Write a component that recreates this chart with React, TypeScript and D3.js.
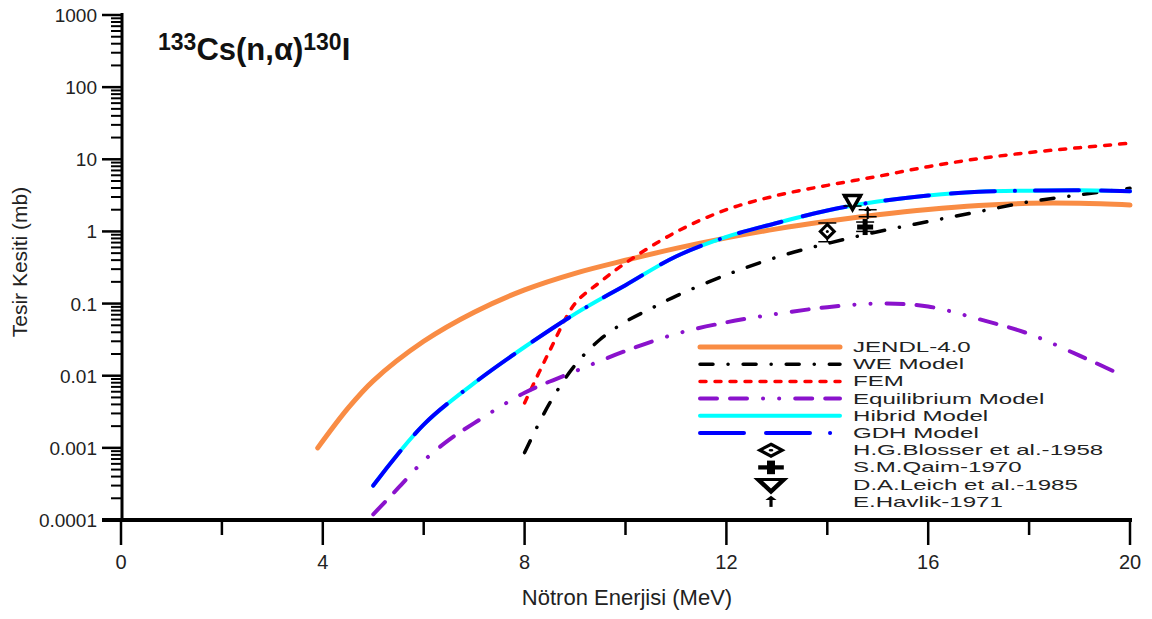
import * as d3 from "d3";

// energies (MeV) and cross sections (mb)
const jendlE = [3.9, 4.5, 5, 6, 7, 8, 9, 10, 11, 12, 13, 14, 15, 16, 17, 18, 19, 20];
const jendlV = [0.001, 0.00355, 0.0085, 0.03, 0.076, 0.155, 0.263, 0.398, 0.582, 0.813, 1.084, 1.38, 1.7, 2.02, 2.29, 2.45, 2.45, 2.32];

const weE = [8, 8.5, 9, 9.5, 10, 10.5, 11, 12, 13, 14, 15, 16, 17, 18, 19, 20];
const weV = [0.00086, 0.0042, 0.014, 0.032, 0.056, 0.085, 0.127, 0.25, 0.44, 0.68, 0.99, 1.37, 1.88, 2.57, 3.22, 3.96];

const femE = [8, 8.5, 9, 9.5, 10, 11, 12, 13, 14, 15, 16, 17, 18, 19, 20];
const femV = [0.0042, 0.0224, 0.1, 0.2, 0.365, 0.98, 2.0, 3.15, 4.35, 5.8, 7.9, 10.2, 12.4, 14.5, 16.7];

const eqE = [5, 5.5, 6, 6.5, 7, 8, 9, 10, 11, 12, 13, 14, 15, 16, 17, 18, 19, 19.8];
const eqV = [0.00012, 0.00028, 0.00066, 0.00129, 0.0022, 0.0058, 0.0115, 0.022, 0.038, 0.055, 0.072, 0.089, 0.1, 0.091, 0.061, 0.038, 0.019, 0.0105];

const hibE = [5, 6, 7, 8, 9, 10, 11, 12, 13, 14, 15, 16, 17, 18, 19, 20];
const hibV = [0.0003, 0.0021, 0.0079, 0.025, 0.072, 0.18, 0.45, 0.84, 1.31, 1.95, 2.6, 3.15, 3.55, 3.67, 3.72, 3.6];

const gdhE = hibE;
const gdhV = hibV;

// experimental points: energy, value, low, high
const blosser = [{ e: 14.0, v: 1.0, lo: 0.72, hi: 1.31 }];
const qaim = [{ e: 14.75, v: 1.15, lo: 1.0, hi: 1.35 }];
const leich = [{ e: 14.5, v: 2.6, lo: 2.25, hi: 3.0 }];
const havlik = [{ e: 14.8, v: 1.8, lo: 1.6, hi: 2.0 }];

const xTicks = [0, 4, 8, 12, 16, 20];
const xMinor = [2, 6, 10, 14, 18];
const yTicks = [0.0001, 0.001, 0.01, 0.1, 1, 10, 100, 1000];
const yTickLabels = ["0.0001", "0.001", "0.01", "0.1", "1", "10", "100", "1000"];

const width = 1152;
const height = 619;
const x = d3.scaleLinear([0, 20], [121, 1130]);
const y = d3.scaleLog([0.0001, 1000], [520, 15]);

const zip = (es: number[], vs: number[]) => es.map((e, i) => ({ e, v: vs[i] }));

const line = d3
  .line<{ e: number; v: number }>()
  .x((d) => x(d.e))
  .y((d) => y(d.v))
  .curve(d3.curveCatmullRom.alpha(0.5));

const series = [
  { name: "JENDL-4.0", data: zip(jendlE, jendlV), color: "#F98C44", w: 5, dash: "" },
  { name: "WE Model", data: zip(weE, weV), color: "#000000", w: 3.5, dash: "13 15 0.1 15" },
  { name: "FEM", data: zip(femE, femV), color: "#FF0000", w: 3.5, dash: "6 9" },
  { name: "Equilibrium Model", data: zip(eqE, eqV), color: "#8A12CC", w: 4, dash: "17 13 17 16 0.1 16 0.1 16" },
  { name: "Hibrid Model", data: zip(hibE, hibV), color: "#00FFFF", w: 4, dash: "" },
  { name: "GDH Model", data: zip(gdhE, gdhV), color: "#0000FF", w: 4, dash: "44 22 44 20 0.1 20" },
];

const font = "Arial, 'Liberation Sans', sans-serif";

type MP = { cx: number; cy: number; sx?: number; sy?: number };

function Diamond({ cx, cy, sx = 1, sy = 1 }: MP) {
  return (
    <g transform={`translate(${cx},${cy}) scale(${sx},${sy})`}>
      <path d="M0,-7L7,0L0,7L-7,0Z" fill="#fff" stroke="#000" strokeWidth={3} />
      <circle r={1.5} fill="#000" />
    </g>
  );
}

function Plus({ cx, cy, sx = 1, sy = 1 }: MP) {
  return (
    <g transform={`translate(${cx},${cy}) scale(${sx},${sy})`} fill="#000">
      <rect x={-8} y={-2.5} width={16} height={5} />
      <rect x={-2.5} y={-8} width={5} height={16} />
    </g>
  );
}

function Tri({ cx, cy, sx = 1, sy = 1 }: MP) {
  return (
    <g transform={`translate(${cx},${cy}) scale(${sx},${sy})`}>
      <path d="M-8,-6L8,-6L0,8Z" fill="#fff" stroke="#000" strokeWidth={3.5} />
    </g>
  );
}

function Arrow({ cx, cy, sx = 1, sy = 1 }: MP) {
  return (
    <g transform={`translate(${cx},${cy}) scale(${sx},${sy})`}>
      <line x1={0} y1={6} x2={0} y2={-3} stroke="#000" strokeWidth={2} />
      <path d="M-3.5,-2L3.5,-2L0,-7Z" fill="#000" />
    </g>
  );
}

function ErrBar({ e, lo, hi }: { e: number; lo: number; hi: number }) {
  const cx = x(e);
  return (
    <g stroke="#000" strokeWidth={1.5}>
      <line x1={cx} x2={cx} y1={y(lo)} y2={y(hi)} />
      <line x1={cx - 9} x2={cx + 9} y1={y(lo)} y2={y(lo)} />
      <line x1={cx - 9} x2={cx + 9} y1={y(hi)} y2={y(hi)} />
    </g>
  );
}

const markers = [
  { name: "H.G.Blosser et al.-1958", data: blosser, M: Diamond },
  { name: "S.M.Qaim-1970", data: qaim, M: Plus },
  { name: "D.A.Leich et al.-1985", data: leich, M: Tri },
  { name: "E.Havlik-1971", data: havlik, M: Arrow },
];

export default function App() {
  const minorY: number[] = [];
  for (let p = -4; p < 3; p++) for (let m = 2; m <= 9; m++) minorY.push(m * Math.pow(10, p));

  const legendY0 = 347;
  const legendStep = 17.2;

  return (
    <svg width={width} height={height} style={{ position: "absolute", left: 0, top: 0, background: "#fff" }} fontFamily={font}>
      {/* curves */}
      {series.map((s) => (
        <path key={s.name} d={line(s.data) || ""} fill="none" stroke={s.color} strokeWidth={s.w} strokeDasharray={s.dash || undefined} strokeLinecap="round" />
      ))}

      {/* experimental points */}
      {markers.map((m) =>
        m.data.map((d, i) => (
          <g key={m.name + i}>
            <ErrBar e={d.e} lo={d.lo} hi={d.hi} />
            <m.M cx={x(d.e)} cy={y(d.v)} />
          </g>
        ))
      )}

      {/* y axis */}
      <line x1={122} x2={122} y1={13} y2={521} stroke="#000" strokeWidth={3} />
      {minorY.map((v) => (
        <line key={v} x1={111} x2={122} y1={y(v)} y2={y(v)} stroke="#000" strokeWidth={2} />
      ))}
      {yTicks.map((v, i) => (
        <g key={v}>
          <line x1={102} x2={122} y1={y(v)} y2={y(v)} stroke="#000" strokeWidth={2.5} />
          <text x={97} y={y(v) + 7} textAnchor="end" fontSize={19} fill="#222">
            {yTickLabels[i]}
          </text>
        </g>
      ))}
      <text transform={`translate(27,262) rotate(-90)`} textAnchor="middle" fontSize={21} fill="#222">
        Tesir Kesiti (mb)
      </text>

      {/* x axis */}
      <line x1={102} x2={1132} y1={520} y2={520} stroke="#000" strokeWidth={4} />
      {xTicks.map((t) => (
        <g key={t}>
          <line x1={x(t)} x2={x(t)} y1={520} y2={545} stroke="#000" strokeWidth={2.5} />
          <text x={x(t)} y={569} textAnchor="middle" fontSize={20} fill="#222">
            {t}
          </text>
        </g>
      ))}
      {xMinor.map((t) => (
        <line key={t} x1={x(t)} x2={x(t)} y1={520} y2={535} stroke="#000" strokeWidth={2.5} />
      ))}
      <text x={627} y={605} textAnchor="middle" fontSize={22} fill="#222">
        Nötron Enerjisi (MeV)
      </text>

      {/* title */}
      <text x={158} y={60} fontWeight="bold" fill="#111">
        <tspan fontSize={23} dy={-10}>133</tspan>
        <tspan fontSize={31} dy={10}>Cs(n,α)</tspan>
        <tspan fontSize={23} dy={-10}>130</tspan>
        <tspan fontSize={31} dy={10}>I</tspan>
      </text>

      {/* legend */}
      {series.map((s, i) => {
        const ly = legendY0 + i * legendStep;
        return (
          <g key={s.name}>
            <line x1={700} x2={840} y1={ly} y2={ly} stroke={s.color} strokeWidth={s.w} strokeDasharray={s.dash || undefined} strokeLinecap="round" />
            <text transform={`translate(853,${ly + 5}) scale(1.72,1)`} fontSize={14} fill="#222">
              {s.name}
            </text>
          </g>
        );
      })}
      {markers.map((m, i) => {
        const ly = legendY0 + (series.length + i) * legendStep;
        return (
          <g key={m.name}>
            <m.M cx={771} cy={ly} sx={1.6} sy={0.85} />
            <text transform={`translate(853,${ly + 5}) scale(1.72,1)`} fontSize={14} fill="#222">
              {m.name}
            </text>
          </g>
        );
      })}
    </svg>
  );
}
